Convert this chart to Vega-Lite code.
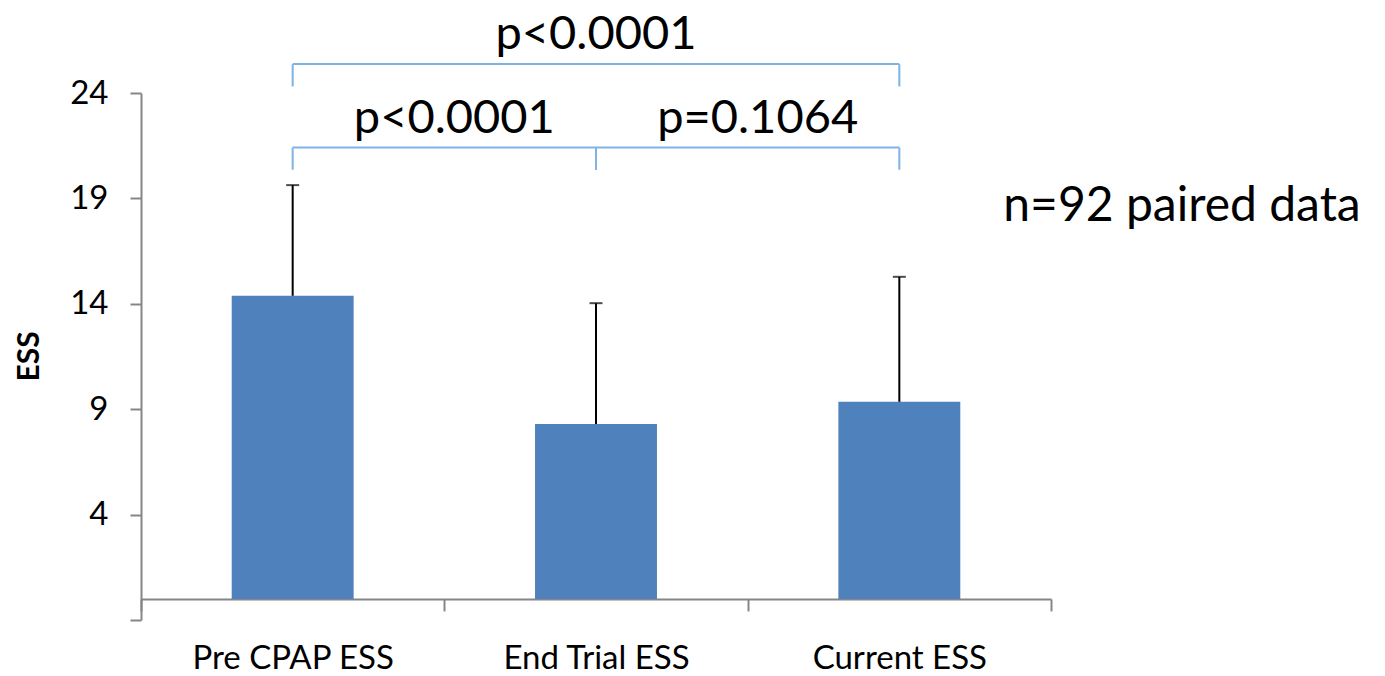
{
  "$schema": "https://vega.github.io/schema/vega-lite/v6.json",
  "autosize": {"type": "none"},
  "width": 910,
  "height": 527,
  "padding": {"left": 141, "top": 93, "right": 334, "bottom": 56},
  "background": "white",
  "datasets": {
    "ess": [
      {"cat": "Pre CPAP ESS", "mean": 14.38, "upper": 19.63},
      {"cat": "End Trial ESS", "mean": 8.30, "upper": 14.03},
      {"cat": "Current ESS", "mean": 9.35, "upper": 15.28}
    ],
    "comparisons": [
      {"from": "Pre CPAP ESS", "to": "End Trial ESS", "p": "p<0.0001", "tier": "adjacent"},
      {"from": "End Trial ESS", "to": "Current ESS", "p": "p=0.1064", "tier": "adjacent"},
      {"from": "Pre CPAP ESS", "to": "Current ESS", "p": "p<0.0001", "tier": "overall"}
    ],
    "note": [{"note": "n=92 paired data"}]
  },
  "layer": [
    {
      "data": {"name": "ess"},
      "mark": {"type": "bar", "color": "#4f81bd", "width": {"band": 0.402}},
      "encoding": {
        "x": {"field": "cat", "type": "nominal", "title": null, "sort": null,
              "scale": {"domain": ["Pre CPAP ESS", "End Trial ESS", "Current ESS"], "paddingInner": 0, "paddingOuter": 0}},
        "y": {"field": "mean", "type": "quantitative", "title": "ESS",
              "scale": {"domain": [-1, 24], "nice": false, "zero": false},
              "axis": {"values": [-1, 4, 9, 14, 19, 24], "labelExpr": "datum.value < 0 ? '' : datum.label"}},
        "y2": {"datum": 0}
      }
    },
    {
      "data": {"name": "ess"},
      "mark": {"type": "rule", "color": "black", "strokeWidth": 2},
      "encoding": {
        "x": {"field": "cat", "type": "nominal", "title": null, "sort": null},
        "y": {"field": "mean", "type": "quantitative", "title": "ESS"},
        "y2": {"field": "upper"}
      }
    },
    {
      "data": {"name": "ess"},
      "mark": {"type": "tick", "color": "black", "size": 13, "thickness": 2},
      "encoding": {
        "x": {"field": "cat", "type": "nominal", "title": null, "sort": null},
        "y": {"field": "upper", "type": "quantitative", "title": "ESS"}
      }
    },
    {
      "data": {"name": "comparisons"},
      "transform": [{"filter": "datum.tier === 'adjacent'"}],
      "mark": {"type": "rule", "color": "#7eb3e3", "strokeWidth": 2},
      "encoding": {
        "x": {"field": "from", "type": "nominal", "title": null},
        "x2": {"field": "to"},
        "y": {"datum": 21.41}
      }
    },
    {
      "data": {"name": "comparisons"},
      "transform": [{"filter": "datum.tier === 'adjacent'"}, {"fold": ["from", "to"], "as": ["end", "endcat"]}],
      "mark": {"type": "rule", "color": "#7eb3e3", "strokeWidth": 2},
      "encoding": {
        "x": {"field": "endcat", "type": "nominal", "title": null},
        "y": {"datum": 20.36},
        "y2": {"datum": 21.41}
      }
    },
    {
      "data": {"name": "comparisons"},
      "transform": [{"filter": "datum.tier === 'overall'"}],
      "mark": {"type": "rule", "color": "#7eb3e3", "strokeWidth": 2},
      "encoding": {
        "x": {"field": "from", "type": "nominal", "title": null},
        "x2": {"field": "to"},
        "y": {"datum": 25.37}
      }
    },
    {
      "data": {"name": "comparisons"},
      "transform": [{"filter": "datum.tier === 'overall'"}, {"fold": ["from", "to"], "as": ["end", "endcat"]}],
      "mark": {"type": "rule", "color": "#7eb3e3", "strokeWidth": 2},
      "encoding": {
        "x": {"field": "endcat", "type": "nominal", "title": null},
        "y": {"datum": 24.31},
        "y2": {"datum": 25.37}
      }
    },
    {
      "data": {"name": "comparisons"},
      "transform": [{"filter": "datum.tier === 'adjacent'"}],
      "mark": {"type": "text", "fontSize": 47, "font": "Lato", "color": "black", "align": "center", "baseline": "alphabetic", "dx": 10},
      "encoding": {
        "x": {"field": "from", "type": "nominal", "title": null, "bandPosition": 1},
        "y": {"datum": 22.11},
        "text": {"field": "p"}
      }
    },
    {
      "data": {"name": "comparisons"},
      "transform": [{"filter": "datum.tier === 'overall'"}],
      "mark": {"type": "text", "fontSize": 47, "font": "Lato", "color": "black", "align": "center", "baseline": "alphabetic"},
      "encoding": {
        "x": {"datum": "End Trial ESS"},
        "y": {"datum": 26.10},
        "text": {"field": "p"}
      }
    },
    {
      "data": {"name": "note"},
      "mark": {"type": "text", "fontSize": 48, "font": "Lato", "color": "black", "align": "left", "baseline": "alphabetic", "dx": 104},
      "encoding": {
        "x": {"datum": "Current ESS"},
        "y": {"datum": 17.95},
        "text": {"field": "note"}
      }
    }
  ],
  "config": {
    "view": {"stroke": null},
    "font": "Lato",
    "axisX": {
      "domainColor": "#868686", "domainWidth": 2,
      "tickColor": "#868686", "tickWidth": 2, "tickSize": 12, "tickBand": "extent",
      "offset": -21.07, "labelFontSize": 33, "labelFont": "Lato", "labelColor": "black",
      "labelPadding": 32, "labelAngle": 0, "labelLimit": 0, "grid": false
    },
    "axisY": {
      "domainColor": "#868686", "domainWidth": 2,
      "tickColor": "#868686", "tickWidth": 2, "tickSize": 11,
      "labelFontSize": 33, "labelFont": "Lato", "labelColor": "black", "labelPadding": 22,
      "grid": false,
      "titleFontSize": 30, "titleFont": "Lato", "titleFontWeight": "bold", "titleColor": "black",
      "titleX": -103, "titleY": 263, "titleAngle": 270, "titleBaseline": "alphabetic", "titleAlign": "center"
    }
  }
}
